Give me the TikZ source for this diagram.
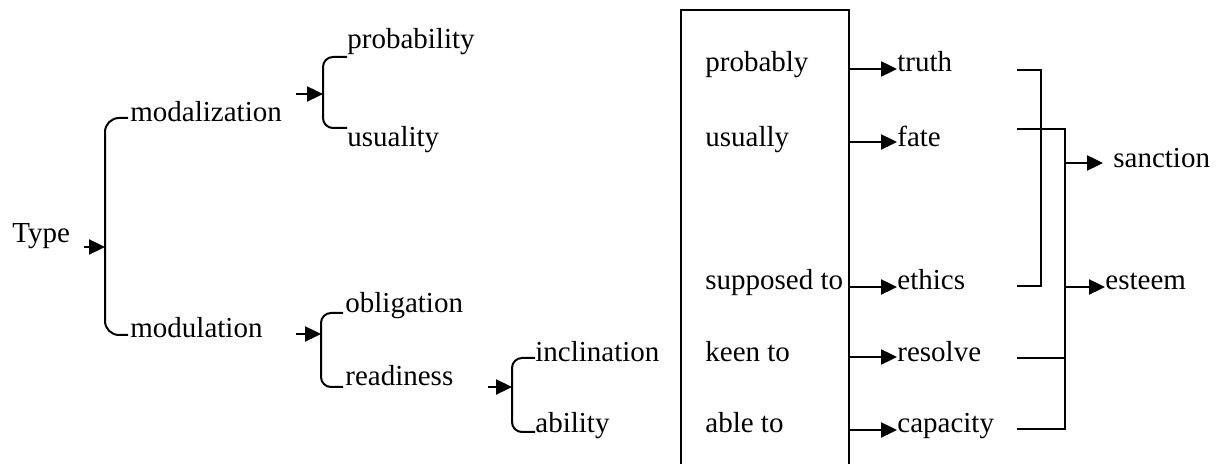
\documentclass[tikz,border=0pt]{standalone}
\usepackage{fontspec}
\setmainfont{Liberation Serif}
\usetikzlibrary{arrows.meta}

\begin{document}
\begin{tikzpicture}[x=0.5pt,y=-0.5pt,
  lbl/.style={anchor=base west,inner sep=0pt,font=\fontsize{14.5}{17}\selectfont},
  arr/.style={-{Triangle[length=8pt,width=7.5pt]},line width=1.2pt},
  brk/.style={line width=1pt,rounded corners=5pt},
  sqbrk/.style={line width=0.8pt},
  frame/.style={line width=1pt}]
\useasboundingbox (0,0) rectangle (1223,464);

\node[lbl] (type) at (12,243) {Type};
\node[lbl] (modal) at (130,122) {modalization};
\node[lbl] (modul) at (130,338) {modulation};
\node[lbl] (prob) at (347,49) {probability};
\node[lbl] (usu) at (347,147) {usuality};
\node[lbl] (oblig) at (345,313) {obligation};
\node[lbl] (ready) at (345,386) {readiness};
\node[lbl] (incl) at (535,362) {inclination};
\node[lbl] (abil) at (535,433) {ability};

\coordinate (typeT) at (84,247); \coordinate (typeS) at (105,247);
\coordinate (modalA) at (128,118); \coordinate (modulA) at (128,335);
\draw[brk,rounded corners=7pt] (modalA) -| (typeS) |- (modulA);
\draw[arr] (typeT)--(typeS);

\coordinate (modalT) at (296,94); \coordinate (modalS) at (323,94);
\coordinate (probA) at (347,57); \coordinate (usuA) at (347,128);
\draw[brk] (probA) -| (modalS) |- (usuA);
\draw[arr] (modalT)--(modalS);

\coordinate (modulT) at (296,334); \coordinate (modulS) at (321,334);
\coordinate (obligA) at (343,313); \coordinate (readyA) at (343,387);
\draw[brk] (obligA) -| (modulS) |- (readyA);
\draw[arr] (modulT)--(modulS);

\coordinate (readyT) at (488,387); \coordinate (readyS) at (512,387);
\coordinate (inclA) at (535,358); \coordinate (abilA) at (535,432);
\draw[brk] (inclA) -| (readyS) |- (abilA);
\draw[arr] (readyT)--(readyS);

\draw[frame] (681,464) |- (849,10) -- (849,464);
\node[lbl] (probly) at (705,72) {probably};
\node[lbl] (usully) at (705,147) {usually};
\node[lbl] (suppto) at (705,290) {supposed to};
\node[lbl] (keento) at (705,362) {keen to};
\node[lbl] (ableto) at (705,433) {able to};

\node[lbl] (truth) at (897,72) {truth};
\node[lbl] (fate) at (897,147) {fate};
\node[lbl] (ethics) at (897,290) {ethics};
\node[lbl] (resolve) at (897,362) {resolve};
\node[lbl] (capac) at (897,433) {capacity};

\coordinate (problyR) at (849,69); \coordinate (usullyR) at (849,142);
\coordinate (supptoR) at (849,287); \coordinate (keentoR) at (849,357);
\coordinate (abletoR) at (849,430);
\draw[arr] (problyR)--(problyR -| truth.west);
\draw[arr] (usullyR)--(usullyR -| fate.west);
\draw[arr] (supptoR)--(supptoR -| ethics.west);
\draw[arr] (keentoR)--(keentoR -| resolve.west);
\draw[arr] (abletoR)--(abletoR -| capac.west);

\node[lbl] (sanction) at (1113,168) {sanction};
\node[lbl] (esteem) at (1105,290) {esteem};

\coordinate (truthE) at (1017,70); \coordinate (ethicsE) at (1017,286);
\coordinate (fateE) at (1017,129); \coordinate (resolveE) at (1017,358);
\coordinate (capacE) at (1017,429);
\draw[sqbrk] (truthE) -- ++(24,0) |- (ethicsE);
\draw[sqbrk] (fateE) -- ++(48,0) |- (capacE);
\draw[sqbrk] (resolveE) -- ++(48,0);

\coordinate (sanctionT) at (1065,163); \coordinate (esteemT) at (1065,287);
\draw[arr] (sanctionT)--++(38,0);
\draw[arr] (esteemT)--(esteemT -| esteem.west);
\end{tikzpicture}
\end{document}
